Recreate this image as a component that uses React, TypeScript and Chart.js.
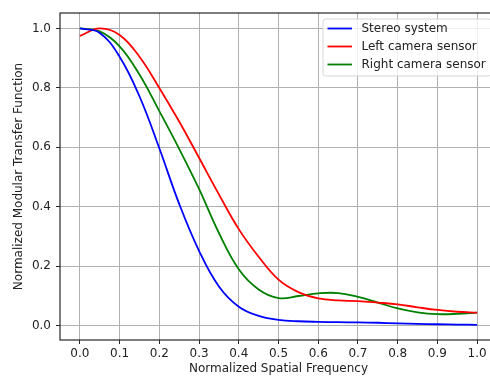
import React, { useEffect, useRef } from "react";
import { Chart, registerables } from "chart.js";

Chart.register(...registerables);

const frequency = [0, 0.05, 0.1, 0.15, 0.2, 0.25, 0.3, 0.35, 0.4, 0.45, 0.5, 0.55, 0.6, 0.65, 0.7, 0.75, 0.8, 0.85, 0.9, 0.95, 1.0];
const stereoSystem = [1.0, 0.985, 0.905, 0.772, 0.597, 0.41, 0.252, 0.132, 0.064, 0.033, 0.02, 0.015, 0.013, 0.012, 0.011, 0.01, 0.008, 0.006, 0.005, 0.004, 0.003];
const leftCamera = [0.975, 1.0, 0.978, 0.905, 0.8, 0.687, 0.565, 0.442, 0.325, 0.232, 0.155, 0.113, 0.092, 0.085, 0.083, 0.078, 0.072, 0.062, 0.053, 0.047, 0.044];
const rightCamera = [1.0, 0.99, 0.94, 0.845, 0.722, 0.595, 0.46, 0.312, 0.19, 0.122, 0.093, 0.1, 0.109, 0.11, 0.097, 0.078, 0.058, 0.045, 0.039, 0.04, 0.044];

const seriesLabels = ["Stereo system", "Left camera sensor", "Right camera sensor"];
const seriesColors = ["#0000ff", "#ff0000", "#008000"];

const xTickValues = [0, 0.1, 0.2, 0.3, 0.4, 0.5, 0.6, 0.7, 0.8, 0.9, 1.0];
const xTickLabels = ["0.0", "0.1", "0.2", "0.3", "0.4", "0.5", "0.6", "0.7", "0.8", "0.9", "1.0"];
const yTickValues = [0, 0.2, 0.4, 0.6, 0.8, 1.0];
const yTickLabels = ["0.0", "0.2", "0.4", "0.6", "0.8", "1.0"];

const FONT = "DejaVu Sans";

const framePlugin = {
  id: "frame",
  afterDatasetsDraw(chart: any) {
    const { ctx, chartArea } = chart;
    ctx.save();
    ctx.strokeStyle = "#262626";
    ctx.lineWidth = 1.2;
    ctx.strokeRect(chartArea.left, chartArea.top, chartArea.right - chartArea.left, chartArea.bottom - chartArea.top);
    ctx.restore();
  },
};

const legendPlugin = {
  id: "mplLegend",
  afterDraw(chart: any) {
    const { ctx, chartArea } = chart;
    const right = chartArea.right - 6;
    const top = chartArea.top + 6;
    const left = 323;
    const bottom = top + 57;
    ctx.save();
    ctx.beginPath();
    const r = 2.5;
    ctx.moveTo(left + r, top);
    ctx.lineTo(right - r, top);
    ctx.arcTo(right, top, right, top + r, r);
    ctx.lineTo(right, bottom - r);
    ctx.arcTo(right, bottom, right - r, bottom, r);
    ctx.lineTo(left + r, bottom);
    ctx.arcTo(left, bottom, left, bottom - r, r);
    ctx.lineTo(left, top + r);
    ctx.arcTo(left, top, left + r, top, r);
    ctx.closePath();
    ctx.fillStyle = "rgba(255,255,255,0.8)";
    ctx.fill();
    ctx.strokeStyle = "#d6d6d6";
    ctx.lineWidth = 1;
    ctx.stroke();
    ctx.font = `12px "${FONT}"`;
    ctx.textBaseline = "middle";
    ctx.textAlign = "left";
    seriesLabels.forEach((label, i) => {
      const y = top + 9.5 + i * 18;
      ctx.strokeStyle = seriesColors[i];
      ctx.lineWidth = 1.8;
      ctx.beginPath();
      ctx.moveTo(left + 4.5, y);
      ctx.lineTo(left + 29, y);
      ctx.stroke();
      ctx.fillStyle = "#222";
      ctx.fillText(label, left + 38.5, y);
    });
    ctx.restore();
  },
};

export default function App() {
  const ref = useRef<HTMLCanvasElement>(null);
  useEffect(() => {
    if (!ref.current) return;
    const series = [stereoSystem, leftCamera, rightCamera];
    const chart = new Chart(ref.current, {
      type: "line",
      data: {
        datasets: series.map((vals, i) => ({
          label: seriesLabels[i],
          data: frequency.map((f, j) => ({ x: f, y: vals[j] })),
          borderColor: seriesColors[i],
          backgroundColor: seriesColors[i],
          borderWidth: 1.8,
          pointRadius: 0,
          tension: 0.4,
          fill: false,
        })),
      },
      options: {
        responsive: false,
        animation: false,
        devicePixelRatio: 1,
        layout: { padding: { top: 13, right: 0, bottom: 0, left: 0 } },
        plugins: { legend: { display: false }, tooltip: { enabled: false } },
        scales: {
          x: {
            type: "linear",
            min: -0.05,
            max: 1.05,
            afterBuildTicks: (scale: any) => {
              scale.ticks = xTickValues.map((v) => ({ value: v }));
            },
            afterFit: (scale: any) => {
              scale.height = 37;
            },
            ticks: {
              autoSkip: false,
              maxRotation: 0,
              padding: 3,
              color: "#222",
              font: { family: FONT, size: 12 },
              callback: (v: any) => {
                const i = xTickValues.findIndex((t) => Math.abs(t - Number(v)) < 1e-9);
                return i >= 0 ? xTickLabels[i] : "";
              },
            },
            grid: { color: "#b0b0b0", lineWidth: 1, tickLength: 4, tickColor: "#262626", drawTicks: true },
            border: { display: false },
            title: {
              display: true,
              text: "Normalized Spatial Frequency",
              color: "#222",
              font: { family: FONT, size: 12 },
              padding: { top: 0, bottom: 1 },
            },
          },
          y: {
            type: "linear",
            min: -0.048,
            max: 1.052,
            afterBuildTicks: (scale: any) => {
              scale.ticks = yTickValues.map((v) => ({ value: v }));
            },
            afterFit: (scale: any) => {
              scale.width = 60;
            },
            ticks: {
              autoSkip: false,
              padding: 5,
              color: "#222",
              font: { family: FONT, size: 12 },
              callback: (v: any) => {
                const i = yTickValues.findIndex((t) => Math.abs(t - Number(v)) < 1e-9);
                return i >= 0 ? yTickLabels[i] : "";
              },
            },
            grid: { color: "#b0b0b0", lineWidth: 1, tickLength: 4, tickColor: "#262626", drawTicks: true },
            border: { display: false },
            title: {
              display: true,
              text: "Normalized Modular Transfer Function",
              color: "#222",
              font: { family: FONT, size: 12 },
              padding: { top: 12, bottom: 0 },
            },
          },
        },
      },
      plugins: [framePlugin, legendPlugin],
    });
    return () => chart.destroy();
  }, []);
  return (
    <div style={{ position: "absolute", left: 0, top: 0, width: 490, height: 377, overflow: "hidden", background: "#fff" }}>
      <canvas ref={ref} width={497} height={377} style={{ display: "block" }} />
    </div>
  );
}
